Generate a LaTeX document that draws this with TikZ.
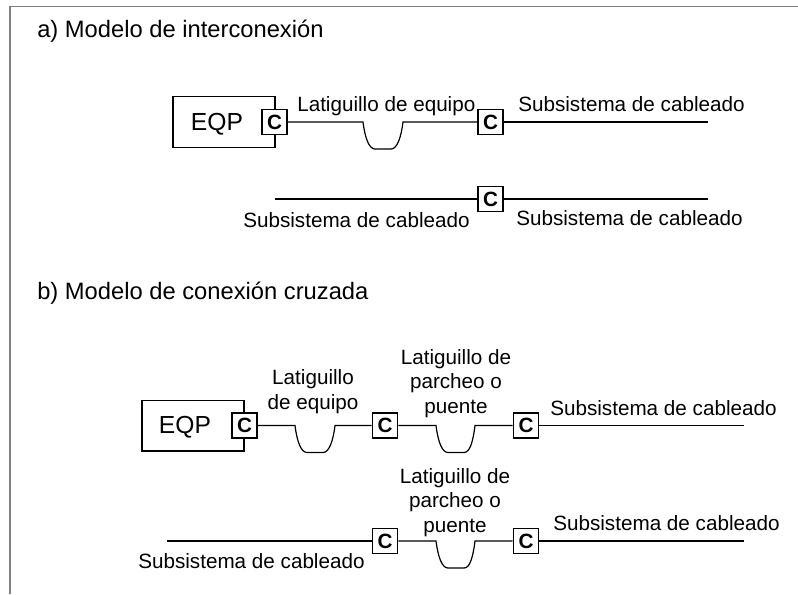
\documentclass[tikz,border=0pt]{standalone}
\usepackage{fontspec}
\setmainfont{Liberation Sans}
\tikzset{
    title/.style={anchor=base west, inner sep=0pt, font=\fontsize{17.8}{20}\selectfont},
    cabletext/.style={anchor=base west, inner sep=0pt, font=\fontsize{15.5}{18.4}\selectfont},
    patchtext/.style={inner sep=0pt, align=center, font=\fontsize{15.5}{18.4}\selectfont},
    eqptext/.style={inner sep=0pt, font=\fontsize{18.5}{20}\selectfont},
    eqpbox/.style={draw, line width=1pt, minimum width=76.5pt, minimum height=38pt, inner sep=0pt},
    conn/.style={draw, line width=1.1pt, fill=white, minimum size=19pt, inner sep=0pt, font=\fontsize{15.5}{16}\selectfont\bfseries},
    cable/.style={line width=0.9pt},
    dip/.style={to path={.. controls +(2,16) and +(-6,0) .. ++(12,27) -- ++(16,0) .. controls +(6,0) and +(-2,16) .. (\tikztotarget)}}
}
\begin{document}
\begin{tikzpicture}[x=0.75pt, y=-0.75pt]
    \useasboundingbox (0,0) rectangle (798,594);
    \draw[line width=1.3pt, gray] (798,6.5) -- (10,6.5) -- (10,594);

    % a)
    \node[title] (ta) at (37,37) {a) Modelo de interconexión};

    \node[eqpbox] (eqpa) at (224,122) {};
    \node[eqptext] (eqpatxt) at (217,124) {EQP};
    \node[conn] (ca1) at (274.5,122) {C};
    \node[conn] (ca2) at (490.5,122) {C};
    \coordinate (a1) at (363,122);
    \coordinate (a2) at (403,122);
    \coordinate (ae1) at (708,122);
    \draw[cable] (ca1) -- (a1) to[dip] (a2) -- (ca2);
    \draw[cable] (ca2) -- (ae1);
    \node[cabletext] (la1) at (297,111) {Latiguillo de equipo};
    \node[cabletext] (sa1) at (518,111) {Subsistema de cableado};

    \node[conn] (ca3) at (490.5,199) {C};
    \coordinate (as2) at (275,199);
    \coordinate (ae2) at (708,199);
    \draw[cable] (as2) -- (ca3);
    \draw[cable] (ca3) -- (ae2);
    \node[cabletext] (sa2) at (243,227) {Subsistema de cableado};
    \node[cabletext] (sa3) at (516,225.5) {Subsistema de cableado};

    % b)
    \node[title] (tb) at (37,299) {b) Modelo de conexión cruzada};

    \node[eqpbox] (eqpb) at (193,425.5) {};
    \node[eqptext] (eqpbtxt) at (185,427.5) {EQP};
    \node[conn] (cb1) at (244.5,425.5) {C};
    \node[conn] (cb2) at (385,425.5) {C};
    \node[conn] (cb3) at (526,425.5) {C};
    \coordinate (b1) at (295,425.5);
    \coordinate (b2) at (335,425.5);
    \coordinate (b3) at (436,425.5);
    \coordinate (b4) at (475,425.5);
    \coordinate (be1) at (744,425.5);
    \draw[cable] (cb1) -- (b1) to[dip] (b2) -- (cb2);
    \draw[cable] (cb2) -- (b3) to[dip] (b4) -- (cb3);
    \draw[cable] (cb3) -- (be1);
    \node[patchtext] (lb1) at (313,391.5) {Latiguillo\\de equipo};
    \node[patchtext] (lb2) at (456,383.5) {Latiguillo de\\parcheo o\\puente};
    \node[cabletext] (sb1) at (550,415) {Subsistema de cableado};

    \node[conn] (cb4) at (385,541) {C};
    \node[conn] (cb5) at (526,541) {C};
    \coordinate (bs2) at (167,541);
    \coordinate (b5) at (436,541);
    \coordinate (b6) at (475,541);
    \coordinate (be2) at (744,541);
    \draw[cable] (bs2) -- (cb4);
    \draw[cable] (cb4) -- (b5) to[dip] (b6) -- (cb5);
    \draw[cable] (cb5) -- (be2);
    \node[patchtext] (lb3) at (455,502.5) {Latiguillo de\\parcheo o\\puente};
    \node[cabletext] (sb2) at (553,530) {Subsistema de cableado};
    \node[cabletext] (sb3) at (138,568) {Subsistema de cableado};
\end{tikzpicture}
\end{document}
